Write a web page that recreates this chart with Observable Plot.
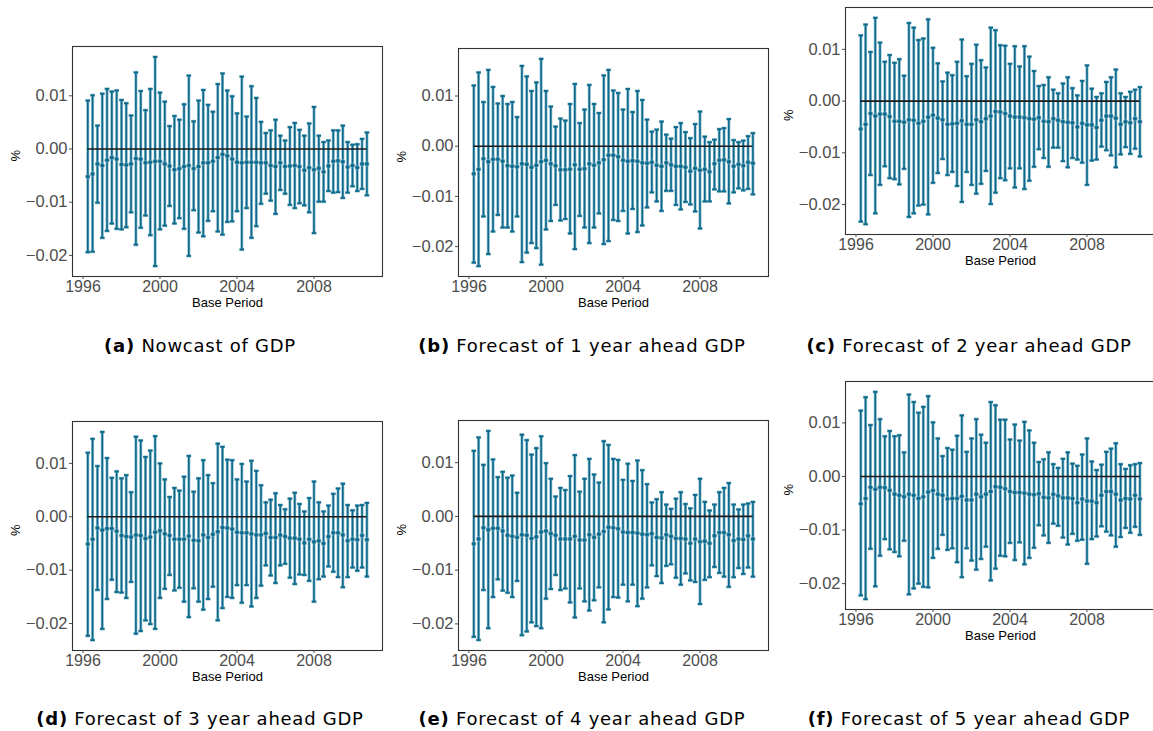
<!DOCTYPE html>
<html>
<head>
<meta charset="utf-8">
<script src="https://cdn.jsdelivr.net/npm/d3@7"></script>
<script src="https://cdn.jsdelivr.net/npm/@observablehq/plot@0.6"></script>
<style>
  body { margin: 0; background: #fff; overflow: hidden; }
  #page { position: relative; width: 1153px; height: 731px; overflow: hidden; background: #fff; }
  .panel { position: absolute; }
  .panel svg { max-width: none !important; display: block; }
  .cap { position: absolute; transform: translateX(-50%); font-family: "DejaVu Sans", sans-serif; font-size: 18px; letter-spacing: 0.75px; line-height: 22px; color: #000; white-space: nowrap; }
  .cap b { font-weight: bold; }
</style>
</head>
<body>
<div id="page"></div>
<script>
// quarterly base periods, 1996Q2 .. 2010Q4
const periods = d3.utcMonth.every(3).range(new Date(Date.UTC(1996, 3, 1)), new Date(Date.UTC(2011, 0, 1)));
const yearTicks = [1996, 2000, 2004, 2008];
const yTicks = [-0.02, -0.01, 0, 0.01];

// (a) nowcast
const nowMid = [-0.0052,-0.0047,-0.0028,-0.0031,-0.0021,-0.0016,-0.0019,-0.0029,-0.0030,-0.0028,
  -0.0018,-0.0019,-0.0026,-0.0025,-0.0023,-0.0023,-0.0028,-0.0032,-0.0039,-0.0037,
  -0.0033,-0.0031,-0.0037,-0.0033,-0.0026,-0.0026,-0.0023,-0.0016,-0.0010,-0.0013,
  -0.0019,-0.0025,-0.0026,-0.0025,-0.0025,-0.0025,-0.0026,-0.0026,-0.0031,-0.0033,
  -0.0026,-0.0033,-0.0032,-0.0031,-0.0033,-0.0040,-0.0035,-0.0039,-0.0036,-0.0043,
  -0.0032,-0.0023,-0.0022,-0.0024,-0.0034,-0.0031,-0.0035,-0.0028,-0.0028];
const nowLo = [-0.0194,-0.0193,-0.0101,-0.0167,-0.0154,-0.0140,-0.0150,-0.0151,-0.0147,-0.0119,
  -0.0180,-0.0148,-0.0125,-0.0162,-0.0220,-0.0151,-0.0144,-0.0107,-0.0140,-0.0130,
  -0.0150,-0.0201,-0.0115,-0.0157,-0.0164,-0.0135,-0.0117,-0.0155,-0.0161,-0.0137,
  -0.0136,-0.0117,-0.0189,-0.0111,-0.0167,-0.0145,-0.0103,-0.0084,-0.0097,-0.0122,
  -0.0077,-0.0084,-0.0105,-0.0111,-0.0102,-0.0106,-0.0119,-0.0158,-0.0099,-0.0099,
  -0.0079,-0.0082,-0.0081,-0.0092,-0.0082,-0.0070,-0.0079,-0.0075,-0.0087];
const nowHi = [0.0091,0.0101,0.0044,0.0104,0.0113,0.0108,0.0110,0.0092,0.0086,0.0063,
  0.0144,0.0109,0.0073,0.0113,0.0173,0.0106,0.0089,0.0043,0.0062,0.0055,
  0.0084,0.0138,0.0052,0.0091,0.0111,0.0083,0.0070,0.0122,0.0142,0.0110,
  0.0099,0.0067,0.0136,0.0061,0.0118,0.0096,0.0051,0.0030,0.0035,0.0055,
  0.0025,0.0016,0.0041,0.0049,0.0036,0.0025,0.0048,0.0079,0.0025,0.0013,
  0.0016,0.0035,0.0035,0.0044,0.0013,0.0008,0.0009,0.0019,0.0031];

// (b) 1 year ahead
const h1Mid = [-0.0055,-0.0046,-0.0025,-0.0031,-0.0026,-0.0026,-0.0030,-0.0039,-0.0040,-0.0041,
  -0.0035,-0.0036,-0.0042,-0.0038,-0.0031,-0.0028,-0.0035,-0.0039,-0.0047,-0.0047,
  -0.0046,-0.0037,-0.0046,-0.0045,-0.0035,-0.0038,-0.0033,-0.0027,-0.0018,-0.0018,
  -0.0021,-0.0028,-0.0030,-0.0029,-0.0030,-0.0033,-0.0034,-0.0032,-0.0038,-0.0040,
  -0.0033,-0.0037,-0.0040,-0.0040,-0.0042,-0.0050,-0.0044,-0.0048,-0.0046,-0.0051,
  -0.0035,-0.0028,-0.0027,-0.0031,-0.0040,-0.0036,-0.0039,-0.0032,-0.0034];
const h1Lo = [-0.0232,-0.0239,-0.0140,-0.0215,-0.0170,-0.0137,-0.0162,-0.0162,-0.0170,-0.0140,
  -0.0231,-0.0212,-0.0193,-0.0203,-0.0236,-0.0166,-0.0149,-0.0117,-0.0148,-0.0145,
  -0.0174,-0.0205,-0.0139,-0.0162,-0.0193,-0.0162,-0.0134,-0.0195,-0.0189,-0.0147,
  -0.0149,-0.0129,-0.0174,-0.0125,-0.0171,-0.0158,-0.0122,-0.0092,-0.0110,-0.0129,
  -0.0089,-0.0089,-0.0117,-0.0126,-0.0111,-0.0116,-0.0130,-0.0164,-0.0110,-0.0110,
  -0.0086,-0.0090,-0.0090,-0.0114,-0.0092,-0.0084,-0.0088,-0.0085,-0.0096];
const h1Hi = [0.0121,0.0147,0.0088,0.0152,0.0118,0.0085,0.0100,0.0084,0.0088,0.0058,
  0.0160,0.0139,0.0110,0.0127,0.0174,0.0110,0.0079,0.0039,0.0055,0.0051,
  0.0084,0.0124,0.0046,0.0073,0.0122,0.0084,0.0066,0.0141,0.0152,0.0111,
  0.0106,0.0073,0.0114,0.0068,0.0110,0.0092,0.0053,0.0029,0.0033,0.0049,
  0.0023,0.0015,0.0038,0.0046,0.0028,0.0016,0.0044,0.0069,0.0019,0.0008,
  0.0013,0.0034,0.0036,0.0054,0.0012,0.0008,0.0011,0.0020,0.0026];

// (c) 2 year ahead
const h2Mid = [-0.0054,-0.0045,-0.0024,-0.0029,-0.0025,-0.0025,-0.0030,-0.0039,-0.0039,-0.0041,
  -0.0036,-0.0037,-0.0043,-0.0039,-0.0031,-0.0027,-0.0033,-0.0036,-0.0045,-0.0044,
  -0.0043,-0.0038,-0.0045,-0.0045,-0.0036,-0.0040,-0.0034,-0.0029,-0.0020,-0.0021,
  -0.0024,-0.0029,-0.0031,-0.0031,-0.0032,-0.0034,-0.0035,-0.0032,-0.0039,-0.0040,
  -0.0034,-0.0037,-0.0040,-0.0041,-0.0042,-0.0050,-0.0043,-0.0046,-0.0046,-0.0051,
  -0.0037,-0.0029,-0.0029,-0.0033,-0.0045,-0.0040,-0.0042,-0.0034,-0.0040];
const h2Lo = [-0.0233,-0.0238,-0.0143,-0.0217,-0.0162,-0.0126,-0.0149,-0.0151,-0.0161,-0.0131,
  -0.0224,-0.0217,-0.0202,-0.0200,-0.0219,-0.0158,-0.0139,-0.0112,-0.0143,-0.0137,
  -0.0164,-0.0195,-0.0137,-0.0162,-0.0179,-0.0160,-0.0135,-0.0199,-0.0177,-0.0149,
  -0.0153,-0.0130,-0.0167,-0.0130,-0.0170,-0.0154,-0.0127,-0.0093,-0.0110,-0.0127,
  -0.0090,-0.0090,-0.0116,-0.0128,-0.0110,-0.0113,-0.0119,-0.0162,-0.0115,-0.0113,
  -0.0088,-0.0095,-0.0105,-0.0128,-0.0103,-0.0089,-0.0102,-0.0092,-0.0107];
const h2Hi = [0.0127,0.0148,0.0095,0.0161,0.0113,0.0076,0.0089,0.0074,0.0081,0.0049,
  0.0151,0.0142,0.0118,0.0121,0.0158,0.0103,0.0073,0.0038,0.0055,0.0050,
  0.0076,0.0119,0.0048,0.0072,0.0109,0.0079,0.0065,0.0142,0.0137,0.0108,
  0.0107,0.0072,0.0106,0.0067,0.0106,0.0086,0.0058,0.0029,0.0031,0.0046,
  0.0022,0.0015,0.0034,0.0046,0.0025,0.0011,0.0039,0.0069,0.0024,0.0008,
  0.0015,0.0037,0.0046,0.0061,0.0015,0.0008,0.0018,0.0022,0.0027];

// (d) 3 year ahead
const h3Mid = [-0.0051,-0.0042,-0.0021,-0.0025,-0.0022,-0.0022,-0.0027,-0.0035,-0.0037,-0.0038,
  -0.0034,-0.0035,-0.0041,-0.0038,-0.0029,-0.0026,-0.0032,-0.0035,-0.0042,-0.0042,
  -0.0042,-0.0036,-0.0044,-0.0045,-0.0034,-0.0039,-0.0033,-0.0028,-0.0020,-0.0021,
  -0.0023,-0.0029,-0.0030,-0.0030,-0.0032,-0.0034,-0.0034,-0.0031,-0.0039,-0.0039,
  -0.0034,-0.0037,-0.0040,-0.0040,-0.0042,-0.0049,-0.0042,-0.0047,-0.0045,-0.0050,
  -0.0037,-0.0030,-0.0030,-0.0034,-0.0045,-0.0042,-0.0043,-0.0035,-0.0043];
const h3Lo = [-0.0223,-0.0231,-0.0137,-0.0210,-0.0154,-0.0118,-0.0141,-0.0142,-0.0152,-0.0122,
  -0.0219,-0.0214,-0.0194,-0.0201,-0.0210,-0.0152,-0.0135,-0.0109,-0.0138,-0.0133,
  -0.0159,-0.0188,-0.0134,-0.0159,-0.0174,-0.0154,-0.0131,-0.0194,-0.0171,-0.0150,
  -0.0152,-0.0128,-0.0161,-0.0128,-0.0168,-0.0152,-0.0129,-0.0091,-0.0110,-0.0124,
  -0.0091,-0.0088,-0.0114,-0.0126,-0.0108,-0.0109,-0.0120,-0.0159,-0.0117,-0.0112,
  -0.0093,-0.0103,-0.0113,-0.0132,-0.0113,-0.0095,-0.0101,-0.0095,-0.0112];
const h3Hi = [0.0120,0.0146,0.0095,0.0159,0.0110,0.0073,0.0085,0.0072,0.0078,0.0046,
  0.0150,0.0143,0.0112,0.0124,0.0151,0.0100,0.0070,0.0037,0.0054,0.0049,
  0.0075,0.0114,0.0047,0.0072,0.0106,0.0078,0.0063,0.0137,0.0131,0.0107,
  0.0106,0.0070,0.0099,0.0066,0.0105,0.0086,0.0059,0.0027,0.0032,0.0044,
  0.0022,0.0014,0.0034,0.0045,0.0024,0.0010,0.0035,0.0066,0.0027,0.0010,
  0.0021,0.0043,0.0053,0.0062,0.0022,0.0012,0.0021,0.0022,0.0026];

// (e) 4 year ahead
const h4Mid = [-0.0051,-0.0042,-0.0021,-0.0025,-0.0022,-0.0022,-0.0027,-0.0035,-0.0037,-0.0039,
  -0.0034,-0.0035,-0.0041,-0.0038,-0.0029,-0.0027,-0.0032,-0.0035,-0.0042,-0.0042,
  -0.0042,-0.0037,-0.0044,-0.0044,-0.0034,-0.0039,-0.0033,-0.0028,-0.0020,-0.0021,
  -0.0023,-0.0029,-0.0030,-0.0030,-0.0031,-0.0033,-0.0034,-0.0032,-0.0039,-0.0040,
  -0.0034,-0.0037,-0.0041,-0.0041,-0.0042,-0.0050,-0.0042,-0.0047,-0.0046,-0.0050,
  -0.0036,-0.0030,-0.0030,-0.0034,-0.0045,-0.0042,-0.0043,-0.0036,-0.0042];
const h4Lo = [-0.0224,-0.0230,-0.0137,-0.0208,-0.0150,-0.0117,-0.0138,-0.0142,-0.0150,-0.0120,
  -0.0221,-0.0214,-0.0197,-0.0204,-0.0208,-0.0153,-0.0135,-0.0109,-0.0137,-0.0134,
  -0.0160,-0.0188,-0.0134,-0.0158,-0.0175,-0.0156,-0.0132,-0.0197,-0.0173,-0.0150,
  -0.0151,-0.0127,-0.0158,-0.0127,-0.0167,-0.0153,-0.0132,-0.0091,-0.0111,-0.0124,
  -0.0092,-0.0089,-0.0114,-0.0127,-0.0106,-0.0119,-0.0122,-0.0163,-0.0118,-0.0113,
  -0.0094,-0.0105,-0.0112,-0.0131,-0.0113,-0.0096,-0.0107,-0.0095,-0.0112];
const h4Hi = [0.0122,0.0147,0.0096,0.0159,0.0106,0.0073,0.0083,0.0072,0.0076,0.0044,
  0.0152,0.0142,0.0115,0.0127,0.0149,0.0099,0.0070,0.0037,0.0053,0.0049,
  0.0075,0.0114,0.0046,0.0070,0.0107,0.0078,0.0063,0.0140,0.0133,0.0107,
  0.0105,0.0068,0.0098,0.0066,0.0104,0.0086,0.0060,0.0026,0.0032,0.0045,
  0.0022,0.0014,0.0033,0.0045,0.0023,0.0015,0.0040,0.0070,0.0027,0.0011,
  0.0022,0.0045,0.0053,0.0062,0.0022,0.0013,0.0022,0.0024,0.0027];

// (f) 5 year ahead
const h5Mid = [-0.0051,-0.0041,-0.0020,-0.0024,-0.0020,-0.0021,-0.0026,-0.0033,-0.0035,-0.0038,
  -0.0033,-0.0035,-0.0041,-0.0038,-0.0029,-0.0026,-0.0033,-0.0035,-0.0042,-0.0041,
  -0.0041,-0.0037,-0.0044,-0.0044,-0.0033,-0.0038,-0.0033,-0.0028,-0.0019,-0.0020,
  -0.0023,-0.0028,-0.0030,-0.0030,-0.0031,-0.0033,-0.0034,-0.0032,-0.0039,-0.0040,
  -0.0033,-0.0036,-0.0040,-0.0040,-0.0041,-0.0049,-0.0042,-0.0046,-0.0046,-0.0049,
  -0.0035,-0.0028,-0.0028,-0.0033,-0.0044,-0.0041,-0.0042,-0.0035,-0.0042];
const h5Lo = [-0.0222,-0.0229,-0.0135,-0.0205,-0.0148,-0.0117,-0.0136,-0.0141,-0.0149,-0.0120,
  -0.0220,-0.0209,-0.0200,-0.0206,-0.0207,-0.0152,-0.0135,-0.0109,-0.0137,-0.0134,
  -0.0160,-0.0188,-0.0134,-0.0157,-0.0174,-0.0154,-0.0131,-0.0194,-0.0172,-0.0148,
  -0.0149,-0.0124,-0.0156,-0.0123,-0.0164,-0.0152,-0.0133,-0.0091,-0.0110,-0.0124,
  -0.0088,-0.0092,-0.0114,-0.0127,-0.0107,-0.0120,-0.0118,-0.0163,-0.0117,-0.0112,
  -0.0093,-0.0103,-0.0110,-0.0131,-0.0113,-0.0096,-0.0105,-0.0094,-0.0109];
const h5Hi = [0.0123,0.0148,0.0096,0.0158,0.0107,0.0075,0.0085,0.0075,0.0077,0.0045,
  0.0153,0.0139,0.0119,0.0130,0.0150,0.0101,0.0071,0.0038,0.0053,0.0050,
  0.0076,0.0114,0.0046,0.0071,0.0107,0.0078,0.0063,0.0139,0.0133,0.0106,
  0.0106,0.0069,0.0097,0.0067,0.0102,0.0086,0.0063,0.0027,0.0032,0.0045,
  0.0023,0.0016,0.0033,0.0045,0.0024,0.0020,0.0041,0.0071,0.0028,0.0012,
  0.0022,0.0046,0.0052,0.0062,0.0023,0.0014,0.0021,0.0023,0.0025];

const teal = "#0b6a8b";
const halo = "#8fbccd";

// horizontal whisker cap for dots
const capSymbol = {
  draw(context, size) {
    const r = Math.sqrt(size / Math.PI);
    context.moveTo(-r, 0);
    context.lineTo(r, 0);
  }
};

// frame rectangles (page pixels) and caption centres
const panels = [
  {mid: nowMid, lo: nowLo, hi: nowHi, fx: 72, fy: 46, fh: 230, tag: "(a)", text: "Nowcast of GDP", cx: 200, cy: 346},
  {mid: h1Mid, lo: h1Lo, hi: h1Hi, fx: 458, fy: 48, fh: 228, tag: "(b)", text: "Forecast of 1 year ahead GDP", cx: 582, cy: 346},
  {mid: h2Mid, lo: h2Lo, hi: h2Hi, fx: 845, fy: 7, fh: 227, tag: "(c)", text: "Forecast of 2 year ahead GDP", cx: 969, cy: 346},
  {mid: h3Mid, lo: h3Lo, hi: h3Hi, fx: 72, fy: 421, fh: 229, tag: "(d)", text: "Forecast of 3 year ahead GDP", cx: 200, cy: 719},
  {mid: h4Mid, lo: h4Lo, hi: h4Hi, fx: 458, fy: 420, fh: 230, tag: "(e)", text: "Forecast of 4 year ahead GDP", cx: 582, cy: 719},
  {mid: h5Mid, lo: h5Lo, hi: h5Hi, fx: 845, fy: 381, fh: 228, tag: "(f)", text: "Forecast of 5 year ahead GDP", cx: 969, cy: 719},
];

const page = document.getElementById("page");
const frameW = 310;
const mL = 72, mT = 20, mR = 6, mB = 48;

panels.forEach((p) => {
  const data = periods.map((date, i) => ({date, mid: p.mid[i], lo: p.lo[i], hi: p.hi[i]}));
  const ymin = d3.min(p.lo), ymax = d3.max(p.hi);
  const pad = (ymax - ymin) * 0.05;
  const W = frameW + mL + mR, H = p.fh + mT + mB;

  const chart = Plot.plot({
    width: W,
    height: H,
    marginLeft: mL,
    marginTop: mT,
    marginRight: mR,
    marginBottom: mB,
    x: {
      type: "utc",
      domain: [d3.utcDay.offset(periods[0], -290), d3.utcDay.offset(periods[periods.length - 1], 296)],
    },
    y: {domain: [ymin - pad, ymax + pad]},
    style: {fontFamily: "'Liberation Sans', Arial, sans-serif", background: "transparent", overflow: "visible"},
    marks: [
      Plot.frame({stroke: "#333", strokeWidth: 1.1}),
      Plot.axisX({
        ticks: yearTicks.map((y) => new Date(Date.UTC(y, 0, 1))),
        tickFormat: "%Y", tickSize: 3, tickPadding: 1,
        fontSize: 16, color: "#4d4d4d", label: null,
      }),
      Plot.axisY({
        ticks: yTicks, tickFormat: d3.format(".2f"), tickSize: 3, tickPadding: 2,
        fontSize: 16.5, color: "#4d4d4d", label: null,
      }),
      Plot.text(["%"], {frameAnchor: "left", dx: -57, rotate: -90, fontSize: 13, fill: "#000"}),
      Plot.text(["Base Period"], {frameAnchor: "bottom", dy: 30, fontSize: 13, fill: "#000"}),
      // soft halo under each bar
      Plot.ruleX(data, {x: "date", y1: "lo", y2: "hi", stroke: halo, strokeWidth: 3}),
      Plot.dot(data, {x: "date", y: "hi", symbol: capSymbol, r: 2.4, stroke: halo, strokeWidth: 3}),
      Plot.dot(data, {x: "date", y: "lo", symbol: capSymbol, r: 2.4, stroke: halo, strokeWidth: 3}),
      Plot.ruleX(data, {x: "date", y1: "lo", y2: "hi", stroke: teal, strokeWidth: 1.6}),
      Plot.dot(data, {x: "date", y: "hi", symbol: capSymbol, r: 2.2, stroke: teal, strokeWidth: 1.8}),
      Plot.dot(data, {x: "date", y: "lo", symbol: capSymbol, r: 2.2, stroke: teal, strokeWidth: 1.8}),
      Plot.ruleY([0], {x1: periods[0], x2: periods[periods.length - 1], stroke: "#1a1a1a", strokeWidth: 1.6}),
      Plot.dot(data, {x: "date", y: "mid", r: 2.3, fill: teal, stroke: halo, strokeWidth: 0.6}),
    ],
  });

  const holder = document.createElement("div");
  holder.className = "panel";
  holder.style.left = (p.fx - mL) + "px";
  holder.style.top = (p.fy - mT) + "px";
  holder.style.width = W + "px";
  holder.style.height = H + "px";
  holder.appendChild(chart);
  page.appendChild(holder);

  const cap = document.createElement("div");
  cap.className = "cap";
  cap.style.left = p.cx + "px";
  cap.style.top = (p.cy - 11) + "px";
  cap.innerHTML = "<b>" + p.tag + "</b> " + p.text;
  page.appendChild(cap);
});
</script>
</body>
</html>
